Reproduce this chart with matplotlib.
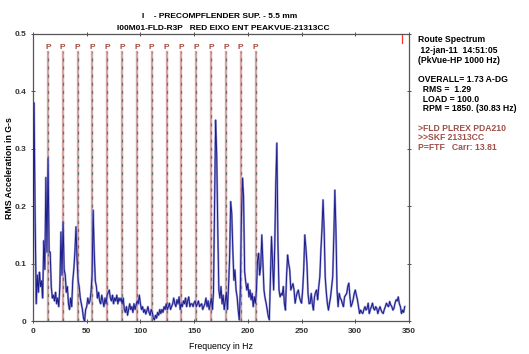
import matplotlib
matplotlib.use("Agg")
import matplotlib.pyplot as plt
import numpy as np

plt.rcParams["font.family"] = ["Liberation Sans", "DejaVu Sans"]
plt.rcParams["font.weight"] = "bold"

# spectrum amplitude (G-s RMS), one value per Hz starting at 0 Hz
rms_g = [
    0.10, 0.38, 0.18, 0.03, 0.08, 0.05, 0.085, 0.06, 0.07, 0.04,
    0.14, 0.09, 0.25, 0.12, 0.284, 0.12, 0.12, 0.06, 0.04, 0.045,
    0.035, 0.05, 0.03, 0.04, 0.025, 0.06, 0.155, 0.08, 0.173, 0.09,
    0.08, 0.05, 0.06, 0.03, 0.02, 0.04, 0.025, 0.07, 0.09, 0.12,
    0.164, 0.108, 0.07, 0.06, 0.04, 0.03, 0.02, 0.005, 0.0, 0.02,
    0.025, 0.04, 0.03, 0.035, 0.05, 0.08, 0.193, 0.12, 0.07, 0.06,
    0.04, 0.05, 0.035, 0.03, 0.045, 0.035, 0.025, 0.04, 0.03, 0.045,
    0.05, 0.054, 0.04, 0.035, 0.045, 0.03, 0.04, 0.035, 0.045, 0.03,
    0.04, 0.035, 0.04, 0.03, 0.04, 0.02, 0.015, 0.025, 0.01, 0.02,
    0.03, 0.02, 0.025, 0.015, 0.03, 0.02, 0.028, 0.035, 0.03, 0.045,
    0.03, 0.02, 0.025, 0.015, 0.02, 0.012, 0.018, 0.025, 0.015, 0.01,
    0.02, 0.015, 0.005, 0.002, 0.01, 0.005, 0.015, 0.01, 0.02, 0.013,
    0.02, 0.015, 0.025, 0.02, 0.03, 0.02, 0.025, 0.031, 0.02, 0.025,
    0.03, 0.04, 0.03, 0.025, 0.037, 0.03, 0.042, 0.02, 0.03, 0.025,
    0.035, 0.03, 0.04, 0.025, 0.035, 0.042, 0.025, 0.03, 0.03, 0.025,
    0.032, 0.035, 0.025, 0.03, 0.035, 0.025, 0.028, 0.03, 0.02, 0.025,
    0.03, 0.04, 0.025, 0.035, 0.02, 0.03, 0.04, 0.02, 0.05, 0.2,
    0.35, 0.29, 0.159, 0.054, 0.04, 0.06, 0.03, 0.045, 0.02, 0.035,
    0.05, 0.02, 0.06, 0.109, 0.208, 0.188, 0.124, 0.071, 0.089, 0.054,
    0.042, 0.019, 0.002, 0.054, 0.182, 0.249, 0.217, 0.086, 0.068, 0.054,
    0.065, 0.042, 0.054, 0.037, 0.048, 0.025, 0.042, 0.031, 0.054, 0.106,
    0.118, 0.08, 0.095, 0.150, 0.1, 0.054, 0.04, 0.031, 0.02, 0.008,
    0.002, 0.077, 0.147, 0.1, 0.054, 0.128, 0.24, 0.31, 0.135, 0.054,
    0.042, 0.048, 0.045, 0.06, 0.03, 0.019, 0.077, 0.115, 0.1, 0.089,
    0.054, 0.06, 0.065, 0.054, 0.031, 0.042, 0.05, 0.054, 0.042, 0.035,
    0.031, 0.054, 0.09, 0.150, 0.128, 0.1, 0.048, 0.03, 0.031, 0.048,
    0.03, 0.019, 0.042, 0.05, 0.054, 0.037, 0.06, 0.077, 0.124, 0.16,
    0.211, 0.16, 0.077, 0.05, 0.031, 0.019, 0.03, 0.042, 0.06, 0.077,
    0.147, 0.228, 0.158, 0.054, 0.025, 0.048, 0.04, 0.037, 0.03, 0.025,
    0.042, 0.045, 0.048, 0.06, 0.066, 0.042, 0.025, 0.03, 0.037, 0.048,
    0.054, 0.045, 0.037, 0.025, 0.013, 0.019, 0.015, 0.013, 0.02, 0.025,
    0.019, 0.022, 0.031, 0.013, 0.02, 0.025, 0.031, 0.022, 0.019, 0.025,
    0.022, 0.013, 0.02, 0.025, 0.019, 0.015, 0.013, 0.02, 0.025, 0.031,
    0.027, 0.025, 0.034, 0.028, 0.025, 0.019, 0.022, 0.031, 0.037, 0.035,
    0.042, 0.03, 0.025, 0.013, 0.019, 0.015, 0.025,
]
freq_step = 1.0

ftf_carrier = 13.81
ftf_orders = list(range(1, 16))
marker_freq = 343.3

title_lines = ["I    - PRECOMPFLENDER SUP. - 5.5 mm",
               "I00M01-FLD-R3P   RED EIXO ENT PEAKVUE-21313CC"]

info_lines = ["Route Spectrum",
              " 12-jan-11  14:51:05",
              "(PkVue-HP 1000 Hz)",
              "OVERALL= 1.73 A-DG",
              "  RMS =  1.29",
              "  LOAD = 100.0",
              "  RPM = 1850. (30.83 Hz)",
              ">FLD PLREX PDA210",
              ">>SKF 21313CC",
              "P=FTF   Carr: 13.81"]
info_y_px = [40, 50.5, 60.5, 80, 90, 99.5, 108.5, 128.5, 137.5, 147.5]
info_colors = ["black"] * 7 + ["#a0504a"] * 3

W, H = 529, 354
fig = plt.figure(figsize=(W / 100, H / 100), dpi=100)
ax = fig.add_axes([33 / W, 1 - 321 / H, 376 / W, 287 / H])

freqs = np.arange(len(rms_g)) * freq_step

# fault frequency lines
for n in ftf_orders:
    f = n * ftf_carrier
    ax.plot([f, f], [0, 0.468], color="#d6a4a4", lw=1.7, zorder=1)
    ax.plot([f, f], [0, 0.468], color="#6e6e6e", lw=0.9, dashes=(2.5, 4), zorder=1)
    ax.text(f, 0.477, "P", color="#a8483a", fontsize=6, ha="center", va="center")

ax.plot(freqs, rms_g, color="#9a9ad6", lw=1.5, zorder=2)
ax.plot(freqs, rms_g, color="#1c1c8a", lw=0.7, zorder=3)

ax.plot([marker_freq, marker_freq], [0.484, 0.5], color="#ff3030", lw=0.9, clip_on=False)

ax.set_xlim(0, 350)
ax.set_ylim(0, 0.5)
ax.set_xticks(range(0, 351, 50))
ax.set_yticks([0, 0.1, 0.2, 0.3, 0.4, 0.5])
ax.set_yticklabels(["0", "0.1", "0.2", "0.3", "0.4", "0.5"])
ax.tick_params(axis="both", which="both", labelsize=6, length=3, width=0.6,
               direction="inout", top=True, right=True, colors="#333333")
for s in ax.spines.values():
    s.set_color("#555555")
    s.set_linewidth(0.9)

ax.set_xlabel("Frequency in Hz", fontsize=6.3, labelpad=5)
fig.text(10 / W, 1 - 168 / H, "RMS Acceleration in G-s", fontsize=6.3,
         rotation=90, ha="center", va="center")

fig.text(220 / W, 1 - 17 / H, title_lines[0], fontsize=6, ha="center", va="center")
fig.text(223 / W, 1 - 28 / H, title_lines[1], fontsize=6, ha="center", va="center")

for txt, ypx, c in zip(info_lines, info_y_px, info_colors):
    fig.text(418 / W, 1 - ypx / H, txt, fontsize=6.2, ha="left", va="center", color=c)

fig.savefig("out.png", dpi=100)
